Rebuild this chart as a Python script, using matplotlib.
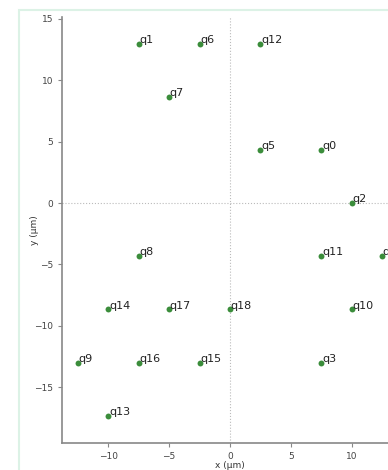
import matplotlib
matplotlib.use("Agg")
import matplotlib.pyplot as plt
from matplotlib.patches import Rectangle

# qubit positions on the device (um)
labels = ["q0", "q1", "q2", "q3", "q4", "q5", "q6", "q7", "q8", "q9",
          "q10", "q11", "q12", "q13", "q14", "q15", "q16", "q17", "q18"]
xs = [7.5, -7.5, 10.0, 7.5, 12.5, 2.5, -2.5, -5.0, -7.5, -12.5,
      10.0, 7.5, 2.5, -10.0, -10.0, -2.5, -7.5, -5.0, 0.0]
ys = [4.33, 13.0, 0.0, -13.0, -4.33, 4.33, 13.0, 8.66, -4.33, -13.0,
      -8.66, -4.33, 13.0, -17.32, -8.66, -13.0, -13.0, -8.66, -8.66]

W, H = 388, 470
fig = plt.figure(figsize=(W / 100, H / 100), dpi=100)

# light frame around the panel
fig.patches.append(Rectangle((19 / W, -0.1), 1.2, 1 - 10 / H + 0.1,
                             transform=fig.transFigure, fill=False,
                             edgecolor="#dcf2e6", linewidth=1.5))

ax = fig.add_axes([62 / W, 1 - 443 / H, 336 / W, 426 / H])
ax.set_xlim(-13.8, 13.8)
ax.set_ylim(-19.56, 15.16)

ax.axhline(0, color="#bbbbbb", linestyle=":", linewidth=0.8, zorder=1)
ax.axvline(0, color="#bbbbbb", linestyle=":", linewidth=0.8, zorder=1)

ax.scatter(xs, ys, s=18, color="#3b8d3b", zorder=3, linewidths=0)
for lab, x, y in zip(labels, xs, ys):
    ax.annotate(lab, (x, y), xytext=(0.5, 0.5), textcoords="offset points",
                fontsize=8, color="#222222", ha="left", va="baseline",
                clip_on=False)

for side in ("top", "right"):
    ax.spines[side].set_visible(False)
for side in ("left", "bottom"):
    ax.spines[side].set_color("#888888")
    ax.spines[side].set_linewidth(1.2)

ax.set_xticks([-10, -5, 0, 5, 10])
ax.set_yticks([-15, -10, -5, 0, 5, 10, 15])
ax.tick_params(labelsize=6.5, colors="#444444", length=3, width=0.8)
ax.tick_params(axis="both", color="#888888")
ax.set_xlabel("x (µm)", fontsize=6.5, color="#333333", labelpad=0)
ax.set_ylabel("y (µm)", fontsize=6.5, color="#333333", labelpad=-3.5)

fig.savefig("out.png", dpi=100)
